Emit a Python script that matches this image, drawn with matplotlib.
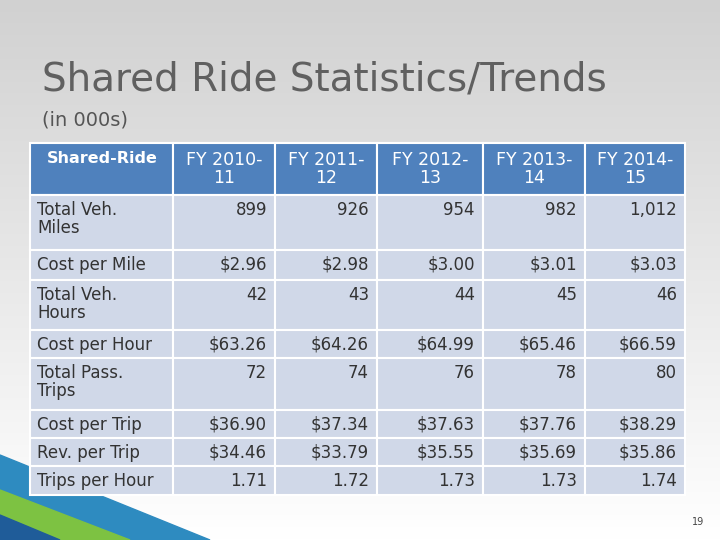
import numpy as np
import matplotlib.pyplot as plt
from matplotlib.patches import Rectangle, Polygon

title = "Shared Ride Statistics/Trends"
subtitle = "(in 000s)"
headers = ["Shared-Ride", "FY 2010-\n11", "FY 2011-\n12", "FY 2012-\n13", "FY 2013-\n14", "FY 2014-\n15"]
row_labels = ["Total Veh.\nMiles", "Cost per Mile", "Total Veh.\nHours", "Cost per Hour",
              "Total Pass.\nTrips", "Cost per Trip", "Rev. per Trip", "Trips per Hour"]
values = [
    ["899", "926", "954", "982", "1,012"],
    ["$2.96", "$2.98", "$3.00", "$3.01", "$3.03"],
    ["42", "43", "44", "45", "46"],
    ["$63.26", "$64.26", "$64.99", "$65.46", "$66.59"],
    ["72", "74", "76", "78", "80"],
    ["$36.90", "$37.34", "$37.63", "$37.76", "$38.29"],
    ["$34.46", "$33.79", "$35.55", "$35.69", "$35.86"],
    ["1.71", "1.72", "1.73", "1.73", "1.74"],
]

col_x = [30, 173, 275, 377, 483, 585, 685]
row_y = [143, 195, 250, 280, 330, 358, 410, 438, 466, 495]

fig = plt.figure(figsize=(7.2, 5.4), dpi=100)
ax = fig.add_axes([0, 0, 1, 1])
ax.set_xlim(0, 720)
ax.set_ylim(540, 0)
ax.axis("off")

# background gradient
grad = np.linspace(0.82, 1.0, 256).reshape(-1, 1)
ax.imshow(np.dstack([grad] * 3), extent=[0, 720, 540, 0], aspect="auto", zorder=0)

# bottom-left decoration
ax.add_patch(Polygon([(0, 455), (210, 540), (0, 540)], color="#2E8BC0", zorder=1))
ax.add_patch(Polygon([(0, 490), (130, 540), (0, 540)], color="#7DC242", zorder=1))
ax.add_patch(Polygon([(0, 515), (60, 540), (0, 540)], color="#1F5C99", zorder=1))

ax.text(42, 80, title, fontsize=28, color="#606060", va="center", ha="left")
ax.text(42, 120, subtitle, fontsize=14, color="#555555", va="center", ha="left")

# header
for j in range(6):
    x0, x1 = col_x[j], col_x[j + 1]
    ax.add_patch(Rectangle((x0, row_y[0]), x1 - x0, row_y[1] - row_y[0],
                           fc="#4F81BD", ec="white", lw=1.5, zorder=2))
    if j == 0:
        ax.text(x0 + 72, row_y[0] + 8, headers[j], color="white", fontsize=11.5,
                fontweight="bold", ha="center", va="top", zorder=3)
    else:
        ax.text((x0 + x1) / 2, row_y[0] + 8, headers[j], color="white", fontsize=12.5,
                ha="center", va="top", linespacing=1.0, zorder=3)

for i, lab in enumerate(row_labels):
    y0, y1 = row_y[i + 1], row_y[i + 2]
    for j in range(6):
        x0, x1 = col_x[j], col_x[j + 1]
        ax.add_patch(Rectangle((x0, y0), x1 - x0, y1 - y0, fc="#D0D8E8", ec="white", lw=1.5, zorder=2))
    ax.text(col_x[0] + 7, y0 + 6, lab, fontsize=12, color="#333333", ha="left", va="top",
            linespacing=1.0, zorder=3)
    for j, v in enumerate(values[i]):
        ax.text(col_x[j + 2] - 8, y0 + 6, v, fontsize=12, color="#333333", ha="right",
                va="top", zorder=3)

ax.text(704, 522, "19", fontsize=7, color="#444444", ha="right", va="center")

fig.savefig("out.png", dpi=100)
